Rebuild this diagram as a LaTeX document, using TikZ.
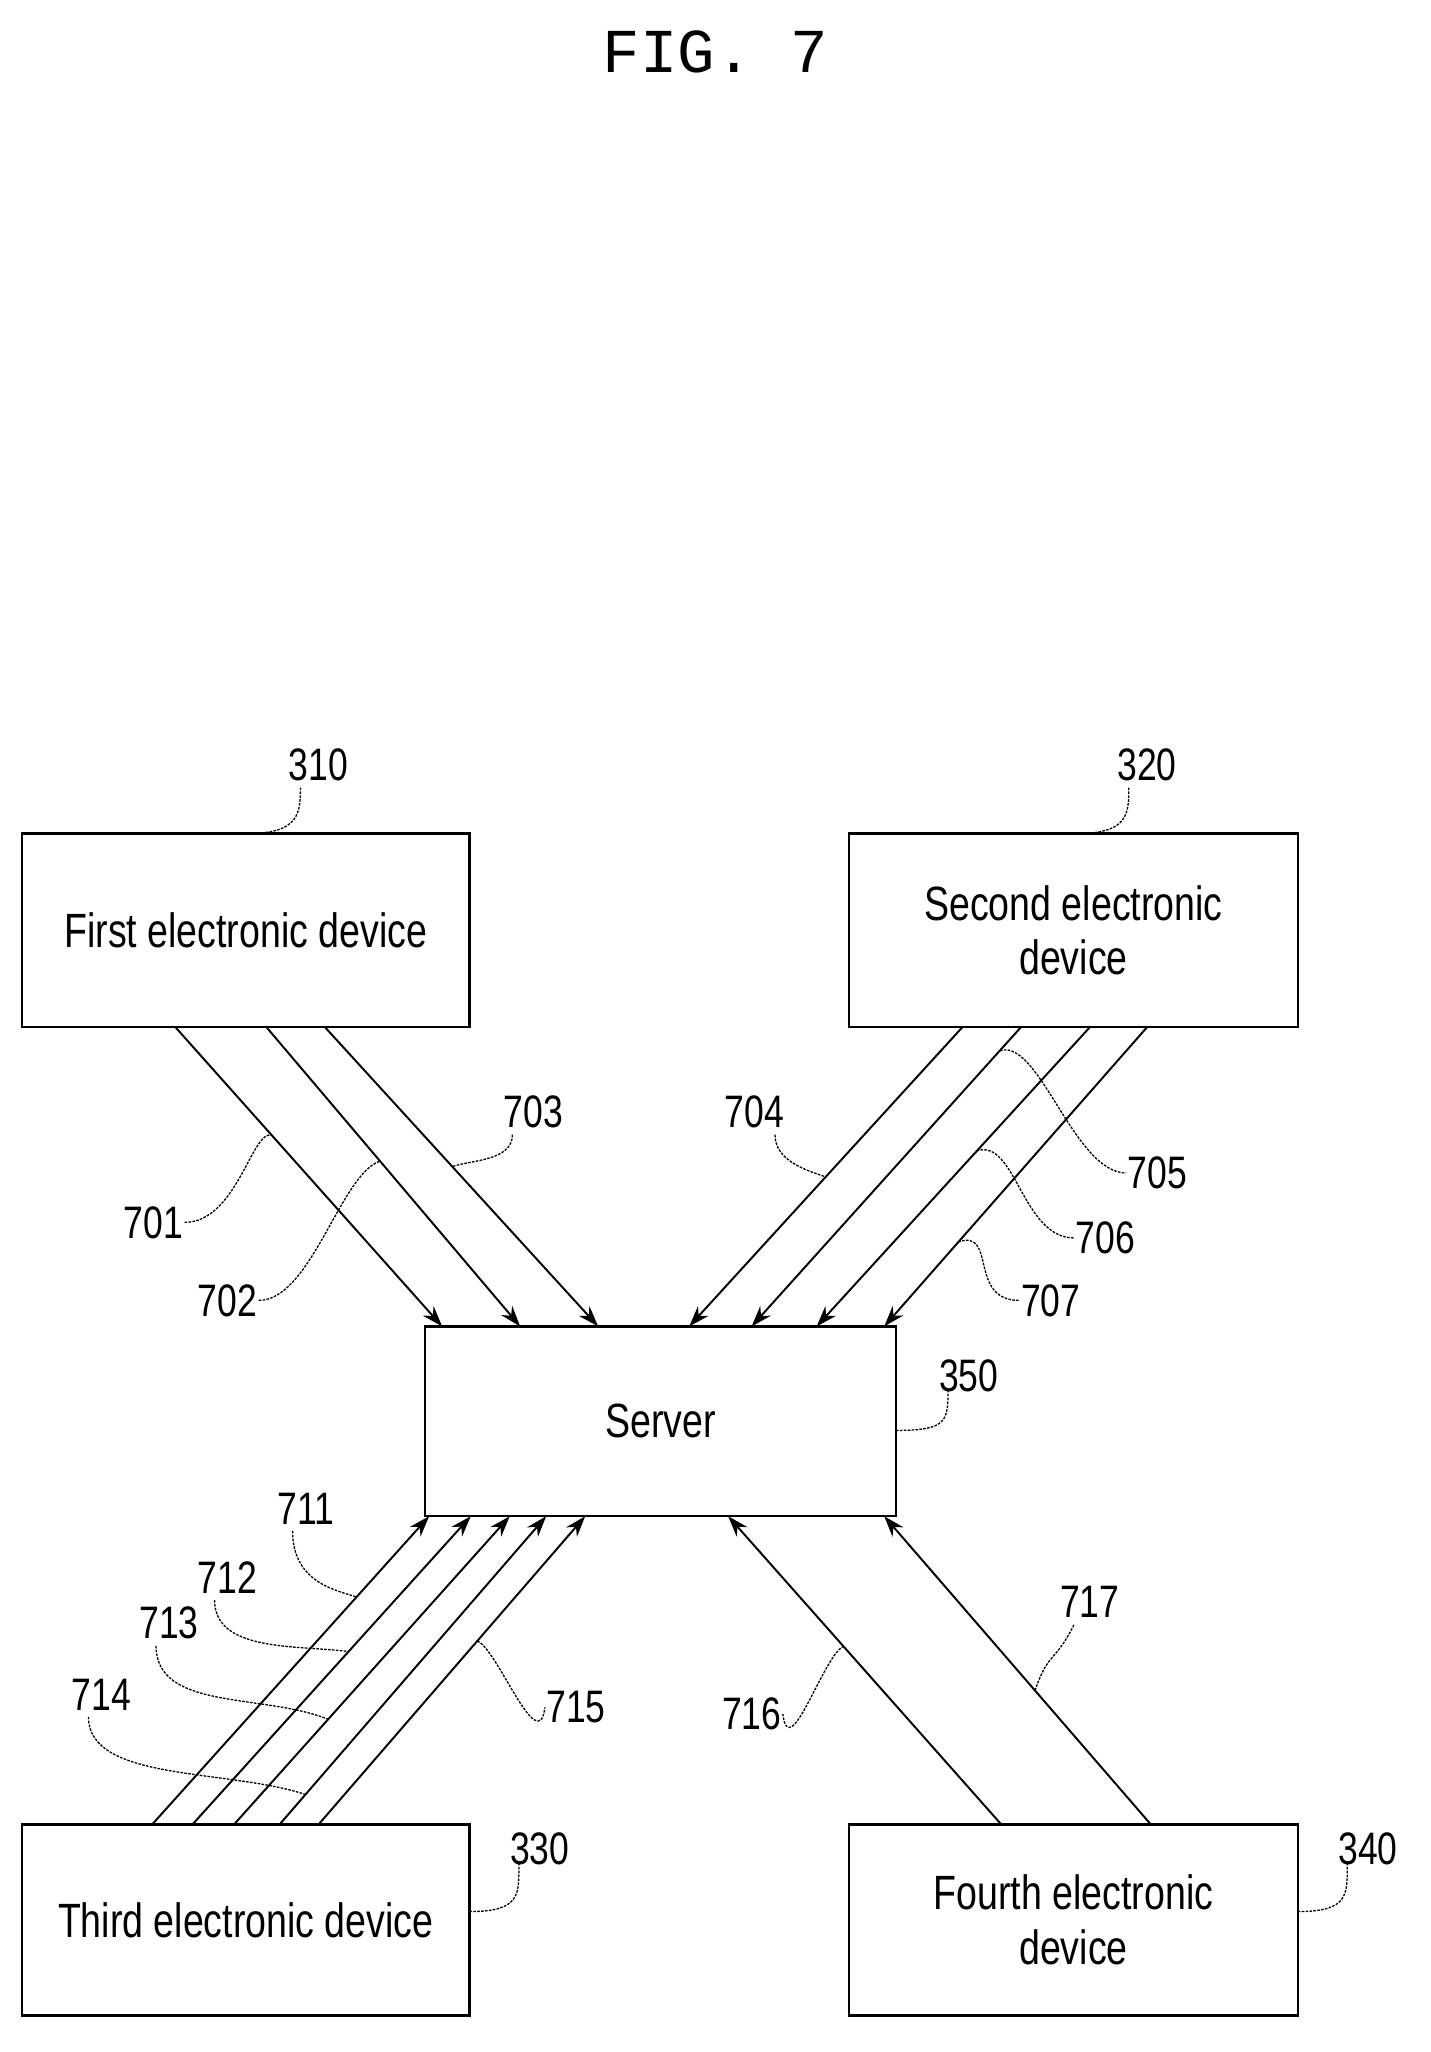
\documentclass[tikz,border=0pt]{standalone}
\usepackage{fontspec}
\setmainfont{Liberation Sans}[FakeStretch=0.78]
\newfontfamily\figfont{Liberation Mono}
\usetikzlibrary{arrows.meta}
\begin{document}
\begin{tikzpicture}[x=1pt,y=-1pt,
 box/.style={draw,line width=1.8pt,inner sep=0pt,font=\fontsize{37}{42}\selectfont,align=center},
 arr/.style={line width=1.5pt,-{Stealth[length=16pt,width=11pt]}},
 lead/.style={line width=1pt,dash pattern=on 2pt off 1pt},
 lab/.style={font=\fontsize{35}{38}\selectfont,inner sep=1pt}]
\useasboundingbox (0,0) rectangle (1100,1578);
\node[font=\figfont\fontsize{48}{52}\selectfont] (fig) at (550,40) {FIG. 7};
% boxes
\node[box,minimum width=344pt,minimum height=149pt] (d1) at (189,715.5) {First electronic device};
\node[box,minimum width=345pt,minimum height=149pt] (d2) at (825.5,715.5) {Second electronic\\device};
\node[box,minimum width=362pt,minimum height=146pt] (sv) at (508,1093) {Server};
\node[box,minimum width=344pt,minimum height=147pt] (d3) at (189,1476.5) {Third electronic device};
\node[box,minimum width=345pt,minimum height=147pt] (d4) at (825.5,1476.5) {Fourth electronic\\device};
% arrows
\foreach \n/\a/\b in {1/135/340,2/205/400,3/250/460,4/740/530,5/785/578,6/838/628,7/882/680}{
 \coordinate (s\n) at (\a,790); \coordinate (e\n) at (\b,1020);
 \draw[arr] (s\n) -- (e\n);}
\foreach \n/\a/\b in {11/117/330,12/148/362,13/180/392,14/215/420,15/245/450,16/770/560,17/885/680}{
 \coordinate (s\n) at (\a,1403); \coordinate (e\n) at (\b,1166);
 \draw[arr] (s\n) -- (e\n);}
% labels
\node[lab] (l310) at (245,588) {310};
\node[lab] (l320) at (882,588) {320};
\node[lab] (l350) at (745,1058) {350};
\node[lab] (l330) at (415,1422) {330};
\node[lab] (l340) at (1052,1422) {340};
\node[lab] (l701) at (118,940) {701};
\node[lab] (l702) at (175,1000) {702};
\node[lab] (l703) at (410,855) {703};
\node[lab] (l704) at (580,855) {704};
\node[lab] (l705) at (890,902) {705};
\node[lab] (l706) at (850,952) {706};
\node[lab] (l707) at (808,1000) {707};
\node[lab] (l711) at (235,1160) {711};
\node[lab] (l712) at (175,1213) {712};
\node[lab] (l713) at (130,1248) {713};
\node[lab] (l714) at (78,1303) {714};
\node[lab] (l715) at (443,1313) {715};
\node[lab] (l716) at (578,1318) {716};
\node[lab] (l717) at (838,1232) {717};
% leader ends
\coordinate (p310) at (190,641); \coordinate (p320) at (828,641);
\coordinate (p350) at (689,1100); \coordinate (p330) at (361,1470); \coordinate (p340) at (998,1470);
\coordinate (p701) at (209,873); \coordinate (p702) at (292,893); \coordinate (p703) at (348,897);
\coordinate (p704) at (635,905); \coordinate (p705) at (769,808); \coordinate (p706) at (751,885);
\coordinate (p707) at (737,955); \coordinate (p711) at (274,1228); \coordinate (p712) at (268,1270);
\coordinate (p713) at (252,1322); \coordinate (p714) at (235,1380); \coordinate (p715) at (367,1262);
\coordinate (p716) at (649,1266); \coordinate (p717) at (796,1300);
\draw[lead] ([xshift=10pt,yshift=-4pt]l310.south west) .. controls +(0,20) and +(40,0) .. (p310);
\draw[lead] ([xshift=10pt,yshift=-4pt]l320.south west) .. controls +(0,20) and +(40,0) .. (p320);
\draw[lead] (p350) .. controls +(40,0) and +(0,25) .. ([xshift=8pt,yshift=4pt]l350.south west);
\draw[lead] (p330) .. controls +(40,0) and +(0,25) .. ([xshift=8pt,yshift=4pt]l330.south west);
\draw[lead] (p340) .. controls +(40,0) and +(0,25) .. ([xshift=8pt,yshift=4pt]l340.south west);
\draw[lead] (l701.east) .. controls +(40,0) and +(-15,-5) .. (p701);
\draw[lead] (l702.east) .. controls +(40,0) and +(-30,10) .. (p702);
\draw[lead] ([xshift=8pt,yshift=-4pt]l703.south west) .. controls +(0,20) and +(15,-5) .. (p703);
\draw[lead] ([xshift=-8pt,yshift=-4pt]l704.south east) .. controls +(0,20) and +(-15,-5) .. (p704);
\draw[lead] (p705) .. controls +(30,-10) and +(-40,0) .. (l705.west);
\draw[lead] (p706) .. controls +(30,-10) and +(-40,0) .. (l706.west);
\draw[lead] (p707) .. controls +(30,-10) and +(-40,0) .. (l707.west);
\draw[lead] ([xshift=-10pt,yshift=-4pt]l711.south) .. controls +(0,40) and +(-15,-5) .. (p711);
\draw[lead] ([xshift=-10pt,yshift=-4pt]l712.south) .. controls +(0,40) and +(-40,-5) .. (p712);
\draw[lead] ([xshift=-10pt,yshift=-4pt]l713.south) .. controls +(0,50) and +(-50,-20) .. (p713);
\draw[lead] ([xshift=-10pt,yshift=-4pt]l714.south) .. controls +(0,50) and +(-60,-20) .. (p714);
\draw[lead] (p715) .. controls +(15,5) and +(-5,40) .. (l715.west);
\draw[lead] (p716) .. controls +(-15,5) and +(5,40) .. (l716.east);
\draw[lead] (p717) .. controls +(10,-30) and +(-15,30) .. ([xshift=-12pt,yshift=-4pt]l717.south);
\end{tikzpicture}
\end{document}
